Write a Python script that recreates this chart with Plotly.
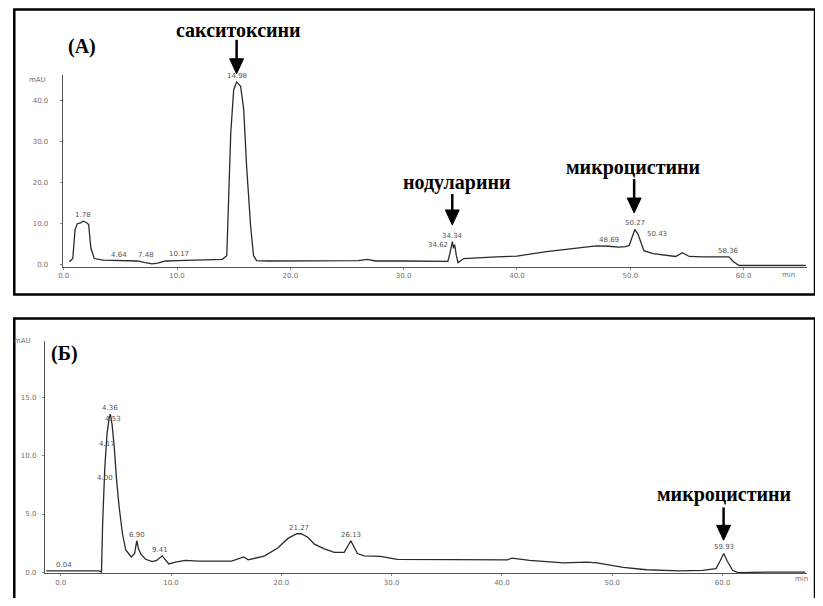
import plotly.graph_objects as go

# reference canvas and page offsets of the figure inside the html page
REF_W, REF_H = 823, 606
OFFX, OFFY = 13, 8
W, H = REF_W - OFFX, REF_H - 2 * OFFY

# ---------------- Data: panel (A) ----------------
time_a = [0.5, 0.8, 1.0, 1.2, 1.5, 1.7, 2.0, 2.2, 2.4, 2.7,
          3.5, 4.6, 5.5, 6.5, 7.2, 7.8, 8.3, 9.0, 10.0, 11.5,
          13.0, 14.0, 14.39, 14.56, 14.74, 15.0, 15.26, 15.61, 15.88, 16.14,
          16.49, 16.75, 17.02, 18.0, 22.0, 26.0, 26.8, 27.5, 30.0, 33.0,
          33.9, 34.1, 34.3, 34.4, 34.5, 34.65, 34.8, 35.0, 35.3, 38.2,
          40.0, 42.6, 44.0, 46.0, 47.0, 48.1, 48.5, 49.0, 49.6, 49.9,
          50.2, 50.4, 50.7, 51.0, 51.2, 52.0, 53.4, 54.0, 54.6, 55.2,
          56.4, 58.7, 59.1, 59.6, 62.0, 65.5]
mau_a = [0.7, 1.5, 8.5, 10.0, 10.2, 10.6, 10.3, 9.8, 4.0, 1.5,
         1.1, 1.0, 1.1, 0.9, 0.5, 0.2, 0.4, 0.9, 1.0, 1.1,
         1.1, 1.3, 2.2, 16.0, 32.0, 42.7, 44.6, 43.5, 38.0, 24.0,
         9.5, 2.2, 1.0, 0.9, 0.9, 1.0, 1.3, 0.9, 0.9, 0.9,
         0.8, 3.0, 5.6, 4.0, 4.9, 2.2, 0.5, 0.9, 1.5, 1.9,
         2.1, 3.2, 3.6, 4.2, 4.6, 4.5, 4.4, 4.3, 4.4, 4.7,
         7.0, 8.6, 7.3, 4.7, 3.4, 2.7, 2.2, 2.0, 2.9, 2.0,
         1.9, 1.9, 0.7, -0.2, -0.2, -0.2]
peak_t_a = [1.7, 4.9, 7.3, 10.2, 15.26, 34.3, 34.1, 48.1, 50.4, 51.3, 58.7]
peak_y_a = [10.6, 1.0, 1.0, 1.1, 44.6, 5.6, 3.4, 4.5, 8.6, 6.0, 1.9]
peak_txt_a = ["1.78", "4.64", "7.48", "10.17", "14.98", "34.34", "34.62",
              "48.69", "50.27", "50.43", "58.36"]
peak_side_a = ["center", "center", "center", "center", "center", "center", "right",
               "center", "center", "left", "center"]

# ---------------- Data: panel (Б) ----------------
time_b = [-1.3, 0.3, 2.0, 3.5, 3.7, 3.8, 4.0, 4.2, 4.4, 4.5,
          4.66, 4.86, 5.07, 5.3, 5.6, 5.9, 6.4, 6.7, 6.9, 7.05,
          7.3, 7.7, 8.3, 8.7, 9.2, 9.5, 9.8, 10.4, 11.3, 12.5,
          15.5, 16.6, 17.0, 18.5, 19.7, 20.6, 21.4, 21.8, 22.4, 23.0,
          23.9, 24.8, 25.7, 26.3, 26.6, 26.9, 27.5, 29.0, 30.5, 35.0,
          40.5, 40.9, 42.5, 45.6, 47.7, 48.6, 51.0, 53.1, 56.1, 58.2,
          59.4, 59.8, 60.1, 60.4, 60.9, 61.4, 64.0, 67.5]
mau_b = [0.1, 0.1, 0.1, 0.1, 0.0, 4.1, 9.0, 11.9, 13.3, 13.6,
         12.7, 10.7, 7.9, 5.6, 3.3, 1.9, 1.3, 1.6, 2.7, 2.0,
         1.5, 1.1, 0.9, 1.0, 1.4, 1.0, 0.7, 0.85, 1.0, 0.95,
         0.95, 1.3, 1.05, 1.4, 2.1, 2.9, 3.3, 3.3, 3.0, 2.4,
         2.0, 1.7, 1.7, 2.7, 2.1, 1.6, 1.4, 1.35, 1.1, 1.05,
         1.05, 1.2, 1.0, 0.8, 0.85, 0.8, 0.4, 0.2, 0.1, 0.15,
         0.3, 1.0, 1.6, 1.0, 0.15, -0.05, 0.0, 0.0]
peak_t_b = [0.3, 4.5, 4.75, 4.2, 4.0, 6.9, 9.0, 21.6, 26.3, 60.1]
peak_y_b = [0.1, 13.6, 12.7, 10.5, 7.6, 2.7, 1.4, 3.3, 2.7, 1.6]
peak_txt_b = ["0.04", "4.36", "4.53", "4.17", "4.00", "6.90", "9.41",
              "21.27", "26.13", "59.93"]

x_ticks = [0, 10, 20, 30, 40, 50, 60]
x_tick_txt = ["0.0", "10.0", "20.0", "30.0", "40.0", "50.0", "60.0"]
y_ticks_a = [0, 10, 20, 30, 40]
y_tick_txt_a = ["0.0", "10.0", "20.0", "30.0", "40.0"]
y_ticks_b = [0, 5, 10, 15]
y_tick_txt_b = ["0.0", "5.0", "10.0", "15.0"]


def px(x):
    return (x - OFFX) / W


def py(y):
    return 1 - (y - OFFY) / H


LINE = "#2a2a2a"
TICKC = "#707070"
SERIF = "Liberation Serif, Times New Roman, serif"
SMALL = dict(size=7, color="#555", family="DejaVu Sans")

fig = go.Figure()
fig.add_trace(go.Scatter(x=time_a, y=mau_a, mode="lines", xaxis="x", yaxis="y",
                         line=dict(color=LINE, width=1.3), hoverinfo="skip"))
fig.add_trace(go.Scatter(x=time_b, y=mau_b, mode="lines", xaxis="x2", yaxis="y2",
                         line=dict(color=LINE, width=1.3), hoverinfo="skip"))

axis_common = dict(showgrid=False, zeroline=False, showline=True, linecolor="#555",
                   linewidth=1, ticks="outside", ticklen=2, tickcolor="#888",
                   tickfont=dict(size=7, color=TICKC, family="DejaVu Sans"))

fig.update_layout(
    width=W, height=H, margin=dict(l=0, r=0, t=0, b=0),
    paper_bgcolor="white", plot_bgcolor="white", showlegend=False,
    xaxis=dict(domain=[px(63), px(812)], range=[-0.09, 65.6], anchor="y",
               tickvals=x_ticks, ticktext=x_tick_txt, **axis_common),
    yaxis=dict(domain=[py(268), py(75)], range=[-0.49, 46.36], anchor="x",
               tickvals=y_ticks_a, ticktext=y_tick_txt_a, ticklabelstandoff=10,
               **axis_common),
    xaxis2=dict(domain=[px(45), px(812)], range=[-1.44, 67.66], anchor="y2",
                tickvals=x_ticks, ticktext=x_tick_txt, **axis_common),
    yaxis2=dict(domain=[py(576), py(343)], range=[-0.09, 19.88], anchor="x2",
                tickvals=y_ticks_b, ticktext=y_tick_txt_b, ticklabelstandoff=4,
                **axis_common),
)

ann = []
# peak retention-time labels
for t, v, s, side in zip(peak_t_a, peak_y_a, peak_txt_a, peak_side_a):
    ann.append(dict(x=t, y=v, xref="x", yref="y", text=s, showarrow=False,
                    xanchor=side, yshift=6, font=SMALL))
for t, v, s in zip(peak_t_b, peak_y_b, peak_txt_b):
    ann.append(dict(x=t, y=v, xref="x2", yref="y2", text=s, showarrow=False,
                    yshift=6, font=SMALL))

# unit labels
for (xx, yy, s) in [(38, 80, "mAU"), (23, 343, "mAU"), (793, 276, "min"), (806, 582, "min")]:
    ann.append(dict(x=px(xx), y=py(yy), xref="paper", yref="paper", text=s,
                    xanchor="center", yanchor="middle",
                    showarrow=False, font=dict(size=7, color=TICKC, family="DejaVu Sans")))

# panel letters and compound names
for (xx, yy, s) in [(82, 47, "(A)"), (65, 355, "(Б)"),
                    (240, 30, "сакситоксини"), (459, 183, "нодуларини"),
                    (637, 168, "микроцистини"), (728, 497, "микроцистини")]:
    ann.append(dict(x=px(xx), y=py(yy), xref="paper", yref="paper",
                    text="<b>" + s + "</b>", showarrow=False,
                    xanchor="center", yanchor="middle",
                    font=dict(size=20, color="black", family=SERIF)))

fig.update_layout(annotations=ann)

shapes = []
# panel frames
shapes.append(dict(type="rect", xref="paper", yref="paper", x0=px(14.3), x1=px(820),
                   y0=py(296), y1=py(9.5), line=dict(color="black", width=2.5)))
shapes.append(dict(type="rect", xref="paper", yref="paper", x0=px(14.3), x1=px(820),
                   y0=py(640), y1=py(320), line=dict(color="black", width=2.5)))
# arrows (shaft + filled head)
for (xx, y_top, y_tip) in [(238, 40, 74), (455, 195, 226), (638, 180, 214), (728, 510, 543)]:
    head = 15
    shapes.append(dict(type="line", xref="paper", yref="paper", x0=px(xx), x1=px(xx),
                       y0=py(y_top), y1=py(y_tip - head + 1),
                       line=dict(color="black", width=2.5)))
    shapes.append(dict(type="path", xref="paper", yref="paper",
                       path=f"M {px(xx-7)} {py(y_tip-head)} L {px(xx+7)} {py(y_tip-head)} L {px(xx)} {py(y_tip)} Z",
                       fillcolor="black", line=dict(color="black", width=1)))
fig.update_layout(shapes=shapes)

fig.write_html("out.html")
